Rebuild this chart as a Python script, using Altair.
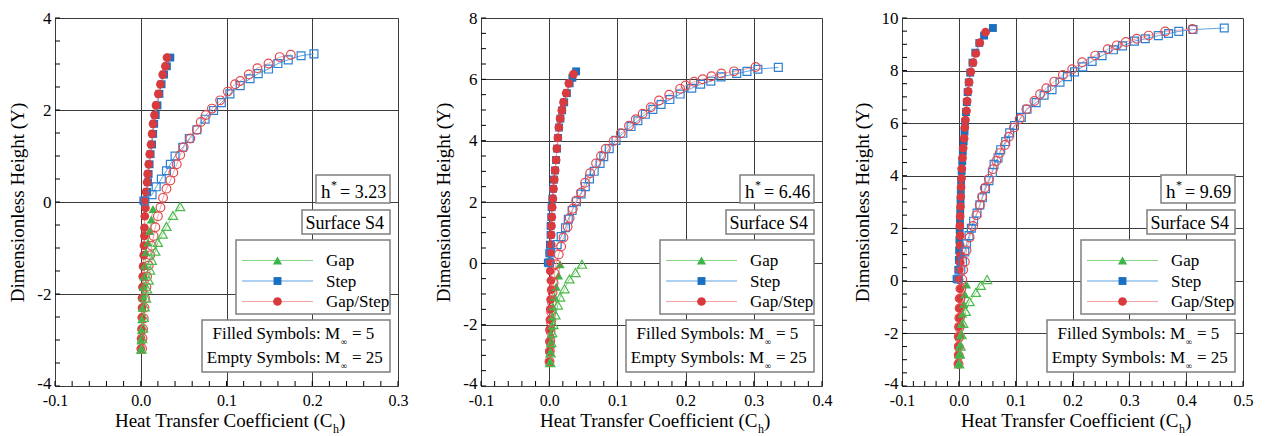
import altair as alt
import pandas as pd
import numpy as np

# ---------------- Panel 1 (h* = 3.23) ----------------
p1_gap5_y = [-0.15, -0.38, -0.63, -0.88, -1.09, -1.38, -1.62, -1.84, -2.05, -2.30, -2.55, -2.79, -3.01, -3.22]
p1_gap5_x = [0.0143, 0.0124, 0.0105, 0.0085, 0.0062, 0.0047, 0.0035, 0.0027, 0.0023, 0.0015, 0.0012, 0.0008, 0.0004, 0.0004]
p1_gap25_y = [-0.10, -0.29, -0.53, -0.70, -0.88, -1.07, -1.27, -1.48, -1.70, -1.89, -2.09, -2.28, -2.51, -2.74, -2.97, -3.20]
p1_gap25_x = [0.046, 0.0376, 0.030, 0.0256, 0.020, 0.017, 0.013, 0.011, 0.0093, 0.0074, 0.0062, 0.0047, 0.0035, 0.0027, 0.0015, 0.0008]
p1_step5_y = [0.03, 0.22, 0.43, 0.61, 0.82, 1.04, 1.25, 1.48, 1.70, 1.89, 2.10, 2.35, 2.56, 2.77, 2.95, 3.14]
p1_step5_x = [0.003, 0.0075, 0.0085, 0.0092, 0.0103, 0.0115, 0.0132, 0.0145, 0.0157, 0.0175, 0.0195, 0.0218, 0.0243, 0.0272, 0.0305, 0.0345]
p1_step25_y = [0.02, 0.16, 0.33, 0.50, 0.68, 0.82, 1.00, 1.19, 1.38, 1.57, 1.80, 1.99, 2.16, 2.35, 2.53, 2.68, 2.79, 2.89, 3.01, 3.09, 3.18, 3.22]
p1_step25_x = [0.0047, 0.0132, 0.018, 0.024, 0.030, 0.0345, 0.040, 0.049, 0.0566, 0.0655, 0.075, 0.085, 0.094, 0.104, 0.116, 0.1275, 0.137, 0.149, 0.160, 0.172, 0.187, 0.202]
p1_gs5_y = [3.14, 2.95, 2.77, 2.56, 2.35, 2.10, 1.89, 1.70, 1.48, 1.25, 1.04, 0.82, 0.61, 0.43, 0.22, 0.04, -0.13, -0.31, -0.56, -0.74, -0.95, -1.16, -1.40, -1.62, -1.85, -2.09, -2.30, -2.51, -2.76, -2.97, -3.19]
p1_gs5_x = [0.0306, 0.0287, 0.0256, 0.0229, 0.0205, 0.0178, 0.016, 0.0143, 0.0132, 0.012, 0.0105, 0.0093, 0.0081, 0.0074, 0.0062, 0.005, 0.0055, 0.0047, 0.0043, 0.0043, 0.0038, 0.0035, 0.0027, 0.0023, 0.002, 0.0015, 0.0015, 0.0012, 0.0008, 0.0004, 0.0]
p1_gs25_y = [3.20, 3.15, 3.01, 2.91, 2.77, 2.63, 2.56, 2.40, 2.21, 2.03, 1.89, 1.74, 1.57, 1.38, 1.19, 1.02, 0.82, 0.64, 0.47, 0.29, 0.09, -0.12, -0.31, -0.55, -0.74, -0.95, -1.16, -1.38, -1.62, -1.85, -2.09, -2.30, -2.53, -2.76, -2.97, -3.19]
p1_gs25_x = [0.175, 0.162, 0.149, 0.136, 0.126, 0.116, 0.110, 0.1016, 0.0926, 0.083, 0.076, 0.070, 0.0655, 0.0578, 0.050, 0.046, 0.042, 0.038, 0.0345, 0.030, 0.026, 0.023, 0.020, 0.017, 0.015, 0.0128, 0.011, 0.0093, 0.0074, 0.0066, 0.005, 0.0043, 0.0035, 0.0027, 0.002, 0.0015]

# ---------------- Panel 2 (h* = 6.46) ----------------
p2_gap5_y = [-0.03, -0.40, -0.76, -1.09, -1.41, -1.73, -2.03, -2.32, -2.64, -2.90, -3.22]
p2_gap5_x = [0.016, 0.0136, 0.0102, 0.0078, 0.0054, 0.0044, 0.0039, 0.003, 0.0025, 0.002, 0.0015]
p2_gap25_y = [-0.03, -0.30, -0.51, -0.83, -1.10, -1.36, -1.68, -2.00, -2.26, -2.58, -2.92, -3.24]
p2_gap25_x = [0.048, 0.0385, 0.0297, 0.0224, 0.016, 0.0127, 0.0092, 0.0063, 0.0044, 0.003, 0.002, 0.0015]
p2_step5_y = [0.02, 0.34, 0.61, 0.93, 1.22, 1.51, 1.83, 2.11, 2.43, 2.73, 3.03, 3.37, 3.74, 4.09, 4.43, 4.72, 4.99, 5.25, 5.55, 5.87, 6.05, 6.26]
p2_step5_x = [-0.002, 0.0, 0.001, 0.002, 0.002, 0.003, 0.0035, 0.0045, 0.0055, 0.007, 0.0085, 0.010, 0.0115, 0.013, 0.0145, 0.0165, 0.019, 0.022, 0.026, 0.030, 0.034, 0.0395]
p2_step25_y = [0.02, 0.34, 0.61, 0.87, 1.16, 1.44, 1.72, 2.01, 2.26, 2.50, 2.75, 3.00, 3.26, 3.48, 3.74, 4.01, 4.24, 4.46, 4.65, 4.86, 5.02, 5.18, 5.34, 5.52, 5.71, 5.84, 5.94, 6.08, 6.19, 6.26, 6.33, 6.39]
p2_step25_x = [0.0005, 0.002, 0.0117, 0.0175, 0.0239, 0.028, 0.0336, 0.040, 0.0468, 0.053, 0.059, 0.066, 0.0746, 0.080, 0.088, 0.098, 0.108, 0.12, 0.13, 0.141, 0.152, 0.164, 0.177, 0.192, 0.209, 0.222, 0.237, 0.252, 0.275, 0.29, 0.306, 0.336]
p2_gs5_y = [6.17, 5.87, 5.55, 5.25, 4.99, 4.72, 4.43, 4.09, 3.74, 3.37, 3.03, 2.73, 2.43, 2.11, 1.83, 1.51, 1.22, 0.93, 0.61, 0.34, 0.05, -0.25, -0.56, -0.86, -1.18, -1.50, -1.84, -2.16, -2.56, -2.88, -3.22]
p2_gs5_x = [0.0356, 0.0288, 0.0249, 0.021, 0.0185, 0.016, 0.0141, 0.0127, 0.0112, 0.0102, 0.0088, 0.0075, 0.0063, 0.0054, 0.0044, 0.0039, 0.0034, 0.003, 0.003, 0.002, 0.002, 0.0015, 0.0025, 0.003, 0.002, 0.0015, 0.001, 0.0005, 0.0005, 0.0005, 0.0]
p2_gs25_y = [6.40, 6.26, 6.19, 6.10, 6.00, 5.92, 5.80, 5.69, 5.50, 5.31, 5.09, 4.88, 4.70, 4.49, 4.24, 3.99, 3.74, 3.50, 3.26, 2.94, 2.63, 2.31, 2.04, 1.78, 1.48, 1.19, 0.84, 0.55, 0.29, -0.03, -0.33, -0.64, -0.95, -1.27, -1.59, -1.91, -2.22, -2.54, -2.87, -3.20]
p2_gs25_x = [0.3026, 0.271, 0.2525, 0.238, 0.225, 0.2125, 0.200, 0.192, 0.176, 0.161, 0.149, 0.137, 0.127, 0.117, 0.105, 0.0946, 0.083, 0.076, 0.0687, 0.060, 0.0526, 0.0468, 0.0395, 0.0346, 0.030, 0.027, 0.021, 0.0175, 0.014, 0.010, 0.008, 0.0065, 0.005, 0.004, 0.003, 0.0025, 0.002, 0.0015, 0.001, 0.0005]

# ---------------- Panel 3 (h* = 9.69) ----------------
p3_gap5_y = [-0.14, -0.51, -0.88, -1.25, -1.62, -2.05, -2.42, -2.79, -3.16]
p3_gap5_x = [0.0135, 0.0105, 0.0088, 0.0065, 0.0047, 0.0035, 0.0023, 0.0018, 0.0005]
p3_gap25_y = [0.05, -0.17, -0.44, -0.79, -1.16, -1.62, -2.05, -2.48, -2.79, -3.16]
p3_gap25_x = [0.0497, 0.0386, 0.030, 0.019, 0.0123, 0.0076, 0.0047, 0.003, 0.0018, 0.0005]
p3_step5_y = [0.07, 0.42, 0.80, 1.16, 1.55, 1.93, 2.30, 2.68, 3.05, 3.42, 3.80, 4.18, 4.55, 4.92, 5.30, 5.68, 6.05, 6.42, 6.80, 7.18, 7.55, 7.92, 8.30, 8.68, 9.05, 9.33, 9.62]
p3_step5_x = [-0.004, -0.001, 0.0, 0.0005, 0.001, 0.0015, 0.002, 0.0025, 0.003, 0.0035, 0.004, 0.005, 0.006, 0.007, 0.0085, 0.010, 0.011, 0.0125, 0.014, 0.0155, 0.0175, 0.020, 0.024, 0.029, 0.036, 0.0444, 0.060]
p3_step25_y = [9.62, 9.56, 9.49, 9.41, 9.33, 9.21, 9.12, 8.94, 8.79, 8.57, 8.35, 8.14, 7.95, 7.77, 7.56, 7.27, 7.06, 6.78, 6.53, 6.22, 5.91, 5.63, 5.30, 4.99, 4.68, 4.43, 4.12, 3.81, 3.51, 3.16, 2.89, 2.58, 2.27, 2.00, 1.72, 1.41, 1.10, 0.73, 0.42, 0.07]
p3_step25_x = [0.467, 0.412, 0.387, 0.369, 0.351, 0.328, 0.309, 0.288, 0.272, 0.252, 0.2345, 0.218, 0.2035, 0.191, 0.178, 0.164, 0.150, 0.136, 0.12, 0.11, 0.098, 0.0895, 0.0825, 0.0737, 0.069, 0.062, 0.059, 0.053, 0.047, 0.0415, 0.037, 0.032, 0.026, 0.022, 0.018, 0.0135, 0.0105, 0.0065, 0.0035, -0.001]
p3_gs5_y = [9.46, 9.06, 8.65, 8.30, 7.95, 7.56, 7.21, 6.84, 6.47, 6.12, 5.83, 5.42, 5.05, 4.68, 4.27, 3.90, 3.57, 3.20, 2.83, 2.46, 2.09, 1.72, 1.35, 0.97, 0.70, 0.42, 0.05, -0.30, -0.67, -1.04, -1.41, -1.74, -2.11, -2.48, -2.81, -3.16]
p3_gs5_x = [0.047, 0.037, 0.030, 0.025, 0.021, 0.018, 0.0164, 0.0146, 0.0135, 0.0117, 0.0105, 0.0093, 0.0076, 0.0064, 0.0053, 0.0047, 0.004, 0.0035, 0.003, 0.0023, 0.0018, 0.0023, 0.0023, 0.003, 0.002, 0.0005, 0.0005, 0.0018, 0.0005, 0.0005, 0.0, -0.0005, -0.001, -0.001, -0.001, -0.0015]
p3_gs25_y = [9.58, 9.49, 9.33, 9.21, 9.09, 8.96, 8.81, 8.57, 8.32, 8.05, 7.83, 7.58, 7.33, 7.10, 6.84, 6.53, 6.16, 5.83, 5.48, 5.17, 4.86, 4.56, 4.25, 3.88, 3.53, 3.20, 2.89, 2.50, 2.09, 1.65, 1.16, 0.73, 0.42, 0.05, -0.30, -0.67, -1.04, -1.41, -1.78, -2.15, -2.52, -2.85, -3.16]
p3_gs25_x = [0.411, 0.363, 0.334, 0.313, 0.294, 0.278, 0.262, 0.240, 0.217, 0.1995, 0.183, 0.168, 0.154, 0.143, 0.133, 0.119, 0.107, 0.097, 0.088, 0.081, 0.072, 0.066, 0.060, 0.053, 0.0456, 0.041, 0.037, 0.031, 0.025, 0.019, 0.0135, 0.0105, 0.0076, 0.006, 0.004, 0.003, 0.002, 0.0015, 0.001, 0.0005, 0.0, 0.0, -0.0005]

# axis ticks / labels
p1_xticks = [-0.1, 0.0, 0.1, 0.2, 0.3]
p2_xticks = [-0.1, 0.0, 0.1, 0.2, 0.3, 0.4]
p3_xticks = [-0.1, 0.0, 0.1, 0.2, 0.3, 0.4, 0.5]
p1_yticks = [-4, -2, 0, 2, 4]
p2_yticks = [-4, -2, 0, 2, 4, 6, 8]
p3_yticks = [-4, -2, 0, 2, 4, 6, 8, 10]
hstar_labels = ["3.23", "6.46", "9.69"]
legend_labels = ["Gap", "Step", "Gap/Step"]

FONT = "Liberation Serif"
H = 368
GRID = "#3c3c3c"

COL = {
    "gap": {"line": "#86d486", "fill": "#3cb44b", "stroke": "#4cbb4c", "shape": "triangle-up", "size": 85},
    "step": {"line": "#5fa3e3", "fill": "#1b6fc0", "stroke": "#2f80d2", "shape": "square", "size": 62},
    "gs": {"line": "#f2a3a3", "fill": "#d93a3e", "stroke": "#e24b50", "shape": "circle", "size": 76},
}

DUMMY = pd.DataFrame({"d": [0]})


def panel(series, xdom, ydom, xmaj, ymaj, hstar, W):
    xs = alt.Scale(domain=xdom, nice=False, zero=False)
    ys = alt.Scale(domain=ydom, nice=False, zero=False)
    xax = alt.Axis(values=xmaj, format=".1f", labelExpr="replace(datum.label, '\u2212', '-')",
                   grid=True, gridColor=GRID, gridWidth=1, ticks=False, domain=False,
                   labelFlush=False, labelOverlap=False, labelFont=FONT, labelFontSize=16,
                   labelColor="black", labelPadding=6, title=None)
    yax = alt.Axis(values=ymaj, format="d", labelExpr="replace(datum.label, '\u2212', '-')",
                   grid=True, gridColor=GRID, gridWidth=1, ticks=False, domain=False,
                   labelFlush=False, labelOverlap=False, labelFont=FONT, labelFontSize=17,
                   labelOffset={"condition": {"test": f"datum.value == {ydom[0]}", "value": -3}, "value": 0},
                   labelColor="black", labelPadding=4, title="Dimensionless Height (Y)",
                   titleFont=FONT, titleFontSize=19, titleFontWeight="normal",
                   titleColor="black", titlePadding=9)

    def X(f):
        return alt.X(f"{f}:Q", scale=xs, axis=xax)

    def Y(f):
        return alt.Y(f"{f}:Q", scale=ys, axis=yax)

    layers = []
    # minor ticks (inward)
    xmin_vals = [round(v, 3) for v in np.arange(xdom[0], xdom[1] + 1e-9, 0.02)]
    ymin_vals = [round(v, 3) for v in np.arange(ydom[0], ydom[1] + 1e-9, 0.5)]
    layers.append(alt.Chart(pd.DataFrame({"v": xmin_vals})).mark_rule(color="black", strokeWidth=1)
                  .encode(x=X("v"), y=alt.value(H - 5), y2=alt.value(H)))
    layers.append(alt.Chart(pd.DataFrame({"v": ymin_vals})).mark_rule(color="black", strokeWidth=1)
                  .encode(y=Y("v"), x=alt.value(0), x2=alt.value(5)))

    # connecting lines
    for (x, y, kind, filled) in series:
        d = pd.DataFrame({"x": x, "y": y})
        layers.append(alt.Chart(d).mark_line(color=COL[kind]["line"], strokeWidth=1)
                      .encode(x=X("x"), y=Y("y"), order=alt.Order("y:Q")))
    # markers
    for (x, y, kind, filled) in series:
        d = pd.DataFrame({"x": x, "y": y})
        c = COL[kind]
        if filled:
            mk = alt.Chart(d).mark_point(shape=c["shape"], size=c["size"], filled=True,
                                         fill=c["fill"], color=c["fill"], opacity=1, strokeWidth=0)
        else:
            mk = alt.Chart(d).mark_point(shape=c["shape"], size=c["size"], filled=False,
                                         color=c["stroke"], opacity=1, strokeWidth=1.2)
        layers.append(mk.encode(x=X("x"), y=Y("y")))

    R = W - 8
    base = alt.Chart(DUMMY)

    def box(x1, x2, d1, d2):
        return base.mark_rect(fill="white", stroke="#7f7f7f", strokeWidth=1.5).encode(
            x=alt.value(x1), x2=alt.value(x2), y=alt.value(H - d1), y2=alt.value(H - d2))

    def txt(s, x, d, size, align="left", baseline="alphabetic"):
        return base.mark_text(text=s, font=FONT, fontSize=size, align=align, baseline=baseline,
                              color="black").encode(x=alt.value(x), y=alt.value(H - d))

    # h* box
    layers.append(box(R - 74, R, 211, 183))
    layers.append(txt("h", R - 69, 188, 19))
    layers.append(txt("*", R - 59, 197, 12))
    layers.append(txt("= " + hstar, R - 50, 188, 18))
    # Surface box
    layers.append(box(R - 88, R, 176, 152))
    layers.append(txt("Surface S4", R - 6, 157.5, 18, align="right"))
    # legend box
    layers.append(box(R - 154, R, 146, 72))
    rows_d = [125.5, 105, 84.5]
    for kind, lab, rd in zip(["gap", "step", "gs"], legend_labels, rows_d):
        c = COL[kind]
        layers.append(base.mark_rule(color=c["line"], strokeWidth=1).encode(
            x=alt.value(R - 148), x2=alt.value(R - 77), y=alt.value(H - rd)))
        layers.append(base.mark_point(shape=c["shape"], size=c["size"], filled=True, fill=c["fill"],
                                      color=c["fill"], opacity=1, strokeWidth=0).encode(
            x=alt.value(R - 112.5), y=alt.value(H - rd)))
        layers.append(txt(lab, R - 64, rd - 5.5, 17))
    # filled/empty box
    layers.append(box(R - 188, R, 66, 14))
    layers.append(txt("Filled Symbols: M", R - 50, 47.5, 17, align="right"))
    layers.append(txt("\u221e", R - 46, 41, 9, align="center"))
    layers.append(txt("= 5", R - 38, 47.5, 17))
    layers.append(txt("Empty Symbols: M", R - 50, 23.5, 17, align="right"))
    layers.append(txt("\u221e", R - 46, 17, 9, align="center"))
    layers.append(txt("= 25", R - 38, 23.5, 17))

    # x axis title with subscript
    xr = W / 2 + 106
    layers.append(txt("Heat Transfer Coefficient (C", xr, -41, 19, align="right"))
    layers.append(txt("h", xr + 0.5, -47, 12))
    layers.append(txt(")", xr + 6.5, -41, 19))

    return alt.layer(*layers).properties(width=W, height=H)


def S(x, y, kind, filled):
    return (x, y, kind, filled)


panel1 = panel([
    S(p1_step5_x, p1_step5_y, "step", True),
    S(p1_gs5_x, p1_gs5_y, "gs", True),
    S(p1_gap5_x, p1_gap5_y, "gap", True),
    S(p1_step25_x, p1_step25_y, "step", False),
    S(p1_gs25_x, p1_gs25_y, "gs", False),
    S(p1_gap25_x, p1_gap25_y, "gap", False),
], [-0.1, 0.3], [-4, 4], p1_xticks, p1_yticks, hstar_labels[0], 343)

panel2 = panel([
    S(p2_step5_x, p2_step5_y, "step", True),
    S(p2_gs5_x, p2_gs5_y, "gs", True),
    S(p2_gap5_x, p2_gap5_y, "gap", True),
    S(p2_step25_x, p2_step25_y, "step", False),
    S(p2_gs25_x, p2_gs25_y, "gs", False),
    S(p2_gap25_x, p2_gap25_y, "gap", False),
], [-0.1, 0.4], [-4, 8], p2_xticks, p2_yticks, hstar_labels[1], 341)

panel3 = panel([
    S(p3_step5_x, p3_step5_y, "step", True),
    S(p3_gs5_x, p3_gs5_y, "gs", True),
    S(p3_gap5_x, p3_gap5_y, "gap", True),
    S(p3_step25_x, p3_step25_y, "step", False),
    S(p3_gs25_x, p3_gs25_y, "gs", False),
    S(p3_gap25_x, p3_gap25_y, "gap", False),
], [-0.1, 0.5], [-4, 10], p3_xticks, p3_yticks, hstar_labels[2], 341)

chart = alt.hconcat(alt.hconcat(panel1, panel2, spacing=25), panel3, spacing=19).properties(
    padding={"left": 0, "top": 0, "right": 0, "bottom": 0}
).configure_view(stroke="black", strokeWidth=1.5).configure(background="white")

chart.save("out.html", embed_options={"renderer": "svg", "actions": False})
